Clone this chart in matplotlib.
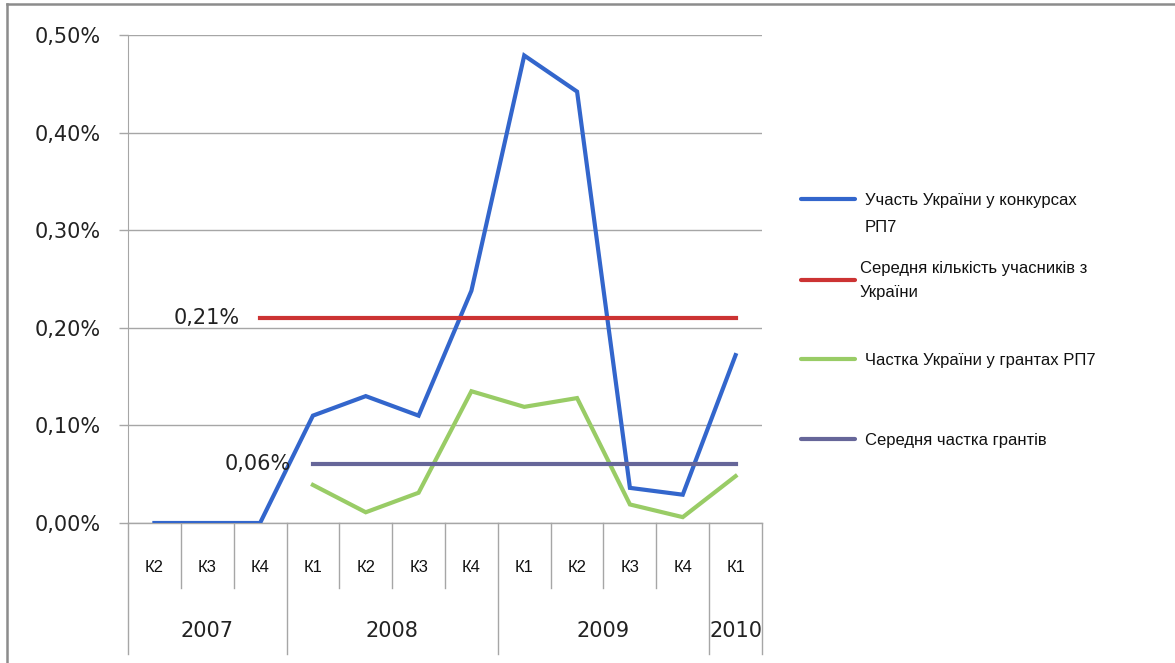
import matplotlib
matplotlib.use("Agg")
import matplotlib.pyplot as plt
from matplotlib.lines import Line2D
from matplotlib.ticker import FuncFormatter

# quarters shown on the category axis
QUARTERS = ['К2', 'К3', 'К4', 'К1', 'К2', 'К3', 'К4', 'К1', 'К2', 'К3', 'К4', 'К1']
YEARS = ['2007', '2008', '2009', '2010']
YEAR_SPANS = [(0, 3), (3, 7), (7, 11), (11, 12)]

# values in percent
participation = [0.0, 0.0, 0.0, 0.110, 0.130, 0.110, 0.238, 0.479, 0.442, 0.036, 0.029, 0.172]
grant_share = [None, None, None, 0.039, 0.011, 0.031, 0.135, 0.119, 0.128, 0.019, 0.006, 0.048]
avg_participants = 0.21
avg_grants = 0.06
avg_participants_from = 2   # starts at К4 2007
avg_grants_from = 3         # starts at К1 2008

LEGEND = ['Участь України у конкурсах\nРП7',
          'Середня кількість учасників з\nУкраїни',
          'Частка України у грантах РП7',
          'Середня частка грантів']

BLUE = '#3366CC'
RED = '#CC3333'
GREEN = '#99CC66'
PURPLE = '#666699'
GRID = '#A6A6A6'

W, H = 1175, 663


def fx(px):
    return px / W


def fy(py):
    return 1 - py / H


def main():
    fig = plt.figure(figsize=(W / 100, H / 100), dpi=100)
    ax = fig.add_axes([fx(128), fy(523), (762 - 128) / W, (523 - 35) / H])

    xs = [i + 0.5 for i in range(len(QUARTERS))]

    ax.plot(xs, participation, color=BLUE, lw=3, solid_joinstyle='miter', zorder=3)
    gx = [x for x, v in zip(xs, grant_share) if v is not None]
    gy = [v for v in grant_share if v is not None]
    ax.plot(gx, gy, color=GREEN, lw=3, solid_joinstyle='miter', zorder=3)
    ax.plot([xs[avg_participants_from], xs[-1]], [avg_participants] * 2, color=RED, lw=3, zorder=3)
    ax.plot([xs[avg_grants_from], xs[-1]], [avg_grants] * 2, color=PURPLE, lw=3, zorder=3)

    # data labels for the averages
    ax.annotate('0,21%', (xs[avg_participants_from], avg_participants), xytext=(-20, 0),
                textcoords='offset pixels', ha='right', va='center', fontsize=15, color='#222222')
    ax.annotate('0,06%', (xs[avg_grants_from], avg_grants), xytext=(-22, 0),
                textcoords='offset pixels', ha='right', va='center', fontsize=15, color='#222222')

    ax.set_xlim(0, 12)
    ax.set_ylim(0, 0.5)
    ax.set_yticks([0, 0.1, 0.2, 0.3, 0.4, 0.5])
    ax.yaxis.set_major_formatter(FuncFormatter(lambda v, p: ('%.2f%%' % v).replace('.', ',')))
    ax.tick_params(axis='y', length=6.5, width=1, color=GRID, pad=13, labelsize=15, labelcolor='#222222')
    ax.set_xticks([])
    ax.grid(axis='y', color=GRID, lw=1)
    ax.set_axisbelow(True)
    for s in ['top', 'right', 'bottom']:
        ax.spines[s].set_visible(False)
    ax.spines['left'].set_color(GRID)

    # multi-level category axis
    tr = ax.get_xaxis_transform()
    q_bottom = (523 - 588) / 488
    y_bottom = (523 - 654) / 488
    ax.plot([0, 12], [0, 0], transform=tr, color=GRID, lw=1, clip_on=False)
    year_edges = [a for a, b in YEAR_SPANS] + [YEAR_SPANS[-1][1]]
    for i in range(13):
        bottom = y_bottom if i in year_edges else q_bottom
        ax.plot([i, i], [0, bottom], transform=tr, color=GRID, lw=1, clip_on=False)
    for x, q in zip(xs, QUARTERS):
        ax.text(x, (523 - 567) / 488, q, transform=tr, ha='center', va='center',
                fontsize=12, family=['Liberation Sans Narrow', 'Liberation Sans'], color='#111111')
    for (a, b), yr in zip(YEAR_SPANS, YEARS):
        ax.text((a + b) / 2, (523 - 631) / 488, yr, transform=tr, ha='center', va='center',
                fontsize=15, color='#222222')

    # legend
    legend_rows = [(199, BLUE, [200, 228]), (280, RED, [268, 293]),
                   (359, GREEN, [361]), (439, PURPLE, [441])]
    for (ly, col, tys), label in zip(legend_rows, LEGEND):
        fig.add_artist(Line2D([fx(801), fx(855)], [fy(ly), fy(ly)], color=col, lw=3,
                              solid_capstyle='round'))
        for ty, line in zip(tys, label.split('\n')):
            tx = 865 if col in (BLUE, GREEN, PURPLE) else 860
            fig.text(fx(tx), fy(ty), line, ha='left', va='center', fontsize=12,
                     family=['Liberation Sans Narrow', 'Liberation Sans'], color='#111111')

    # outer frame (top and left only)
    fig.add_artist(Line2D([fx(7), 1], [fy(4), fy(4)], color='#8C8C8C', lw=1.8))
    fig.add_artist(Line2D([fx(7), fx(7)], [fy(4), 0], color='#8C8C8C', lw=1.8))

    fig.savefig('out.png', dpi=100, facecolor='white')


if __name__ == '__main__':
    main()
